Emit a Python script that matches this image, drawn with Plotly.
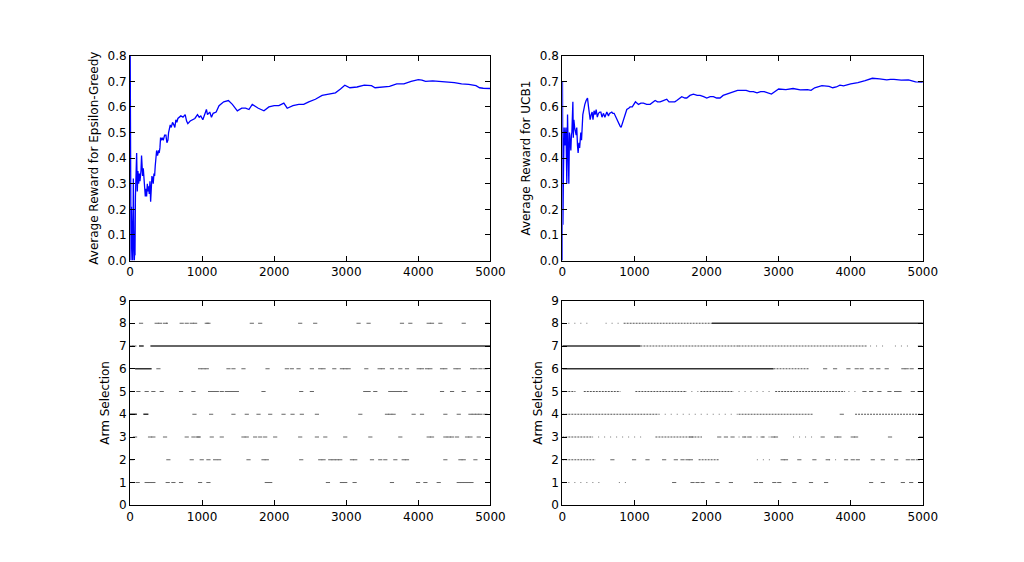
import plotly.graph_objects as go

# ---------------- data ----------------
x_ticks = [0, 1000, 2000, 3000, 4000, 5000]
reward_ticks = [0.0, 0.1, 0.2, 0.3, 0.4, 0.5, 0.6, 0.7, 0.8]
arm_ticks = [0, 1, 2, 3, 4, 5, 6, 7, 8, 9]

eg_x = [0, 3, 8, 14, 20, 26, 32, 37, 42, 46, 52, 60, 64, 69, 75, 80, 86, 92, 101, 110,
        120, 130, 138, 145, 152, 160, 166, 175, 184, 194, 203, 212, 221, 230, 240, 249,
        258, 267, 277, 286, 295, 304, 313, 322, 332, 341, 350, 360, 369, 382, 396, 405,
        415, 424, 433, 447, 461, 480, 498, 512, 526, 535, 544, 558, 572, 590, 608, 622,
        636, 650, 664, 685, 705, 735, 765, 785, 802, 835, 867, 900, 936, 960, 982, 1010,
        1042, 1060, 1075, 1106, 1130, 1153, 1195, 1235, 1300, 1365, 1420, 1489, 1550,
        1604, 1650, 1696, 1780, 1858, 1927, 2000, 2065, 2134, 2181, 2260, 2342, 2410,
        2480, 2572, 2665, 2750, 2850, 2920, 2980, 3050, 3150, 3250, 3350, 3400, 3500,
        3600, 3700, 3800, 3900, 4000, 4050, 4100, 4200, 4300, 4400, 4500, 4600, 4700,
        4800, 4850, 4900, 5000]
eg_y = [1.0, 0.33, 0.12, 0.0, 0.21, 0.05, 0.14, 0.0, 0.10, 0.32, 0.12, 0.0, 0.04, 0.02,
        0.25, 0.30, 0.27, 0.42, 0.27, 0.35, 0.30, 0.34, 0.31, 0.33, 0.35, 0.41, 0.39,
        0.33, 0.36, 0.32, 0.30, 0.25, 0.28, 0.25, 0.30, 0.27, 0.29, 0.26, 0.31, 0.23,
        0.28, 0.33, 0.32, 0.30, 0.34, 0.33, 0.37, 0.42, 0.43, 0.41, 0.43, 0.42, 0.44,
        0.48, 0.47, 0.48, 0.47, 0.49, 0.49, 0.46, 0.47, 0.50, 0.52, 0.53, 0.52, 0.54,
        0.53, 0.52, 0.55, 0.54, 0.555, 0.56, 0.565, 0.56, 0.57, 0.545, 0.535, 0.545,
        0.55, 0.555, 0.57, 0.56, 0.565, 0.55, 0.575, 0.59, 0.57, 0.58, 0.56, 0.575,
        0.58, 0.605, 0.62, 0.625, 0.61, 0.585, 0.595, 0.595, 0.59, 0.61, 0.595, 0.585,
        0.60, 0.605, 0.605, 0.615, 0.595, 0.605, 0.61, 0.61, 0.62, 0.63, 0.645, 0.65,
        0.655, 0.67, 0.685, 0.675, 0.678, 0.685, 0.683, 0.675, 0.678, 0.68, 0.69, 0.69,
        0.70, 0.707, 0.705, 0.70, 0.702, 0.70, 0.697, 0.695, 0.69, 0.688, 0.683, 0.675,
        0.673, 0.672]

ucb_x = [0, 2, 8, 16, 25, 35, 50, 62, 72, 80, 90, 99, 110, 118, 126, 132, 146, 152, 160,
         170, 192, 200, 210, 219, 230, 240, 256, 266, 284, 300, 312, 330, 349, 363, 386,
         400, 413, 425, 440, 455, 469, 485, 501, 520, 534, 550, 571, 590, 617, 640, 654,
         686, 700, 718, 740, 755, 780, 801, 815, 838, 865, 894, 920, 940, 970, 1014, 1056,
         1090, 1125, 1170, 1218, 1260, 1287, 1320, 1356, 1400, 1448, 1480, 1518, 1560,
         1587, 1656, 1700, 1726, 1770, 1818, 1870, 1910, 1960, 2003, 2050, 2095, 2140,
         2187, 2230, 2280, 2330, 2372, 2430, 2488, 2550, 2600, 2650, 2700, 2750, 2800,
         2850, 2900, 2950, 3000, 3100, 3200, 3300, 3400, 3450, 3500, 3600, 3700, 3750,
         3800, 3850, 3900, 4000, 4100, 4200, 4300, 4400, 4500, 4550, 4600, 4700, 4800,
         4900, 5000]
ucb_y = [0.0, 0.70, 0.14, 0.35, 0.52, 0.45, 0.52, 0.30, 0.57, 0.45, 0.30, 0.50, 0.46,
         0.43, 0.49, 0.50, 0.62, 0.48, 0.55, 0.52, 0.49, 0.52, 0.45, 0.42, 0.46, 0.44,
         0.50, 0.47, 0.57, 0.60, 0.61, 0.625, 0.635, 0.60, 0.55, 0.57, 0.58, 0.55, 0.585,
         0.57, 0.59, 0.56, 0.575, 0.58, 0.58, 0.56, 0.575, 0.56, 0.58, 0.565, 0.575, 0.58,
         0.575, 0.575, 0.56, 0.55, 0.535, 0.525, 0.52, 0.54, 0.56, 0.59, 0.595, 0.60,
         0.60, 0.62, 0.61, 0.615, 0.615, 0.61, 0.61, 0.62, 0.625, 0.62, 0.62, 0.625, 0.63,
         0.62, 0.62, 0.62, 0.625, 0.64, 0.635, 0.635, 0.645, 0.65, 0.645, 0.645, 0.64,
         0.635, 0.64, 0.64, 0.635, 0.635, 0.645, 0.65, 0.655, 0.66, 0.665, 0.665, 0.665,
         0.66, 0.66, 0.655, 0.66, 0.66, 0.655, 0.65, 0.66, 0.67, 0.668, 0.672, 0.667,
         0.668, 0.665, 0.675, 0.683, 0.68, 0.675, 0.678, 0.685, 0.682, 0.69, 0.695, 0.703,
         0.712, 0.71, 0.706, 0.708, 0.708, 0.705, 0.706, 0.698, 0.697]

# Epsilon-Greedy arm selections: continuous runs (arm, start, end, density 0=solid,1=dense,2=sparse)
eg_run_arm = [7, 7, 6, 4, 4, 8]
eg_run_start = [125, 283, 70, 0, 185, 498]
eg_run_end = [190, 5000, 300, 95, 255, 530]
eg_run_kind = [0, 0, 0, 0, 0, 1]

# Epsilon-Greedy isolated selections per arm
eg_arm8_x = [153, 370, 417, 486, 717, 787, 856, 903, 1065, 1088, 1690, 1806, 2361, 2569,
             3171, 3310, 3773, 3889, 4144, 4190, 4306, 4630, 4954]
eg_arm7_x = [20, 60]
eg_arm6_x = [394, 972, 1019, 1065, 1366, 1435, 1574, 1908, 2176, 2245, 2338, 2523, 2639,
             2685, 2834, 2940, 2986, 3033, 3278, 3463, 3509, 3634, 3750, 3843, 4005, 4051,
             4121, 4167, 4329, 4375, 4514, 4561, 4746, 4792, 4861, 4931]
eg_arm5_x = [23, 116, 231, 324, 440, 708, 880, 1111, 1157, 1204, 1273, 1343, 1389, 1435,
             1482, 1852, 2375, 2523, 3264, 3310, 3403, 3611, 3657, 3704, 3750, 3820, 4329,
             4468, 4630, 4838, 4954]
eg_arm4_x = [894, 1125, 1435, 1620, 1783, 1945, 2130, 2255, 2384, 2593, 3195, 3565, 3611,
             3657, 3935, 4051, 4375, 4561, 4723, 4769, 4815, 4861, 4931]
eg_arm3_x = [70, 278, 324, 486, 787, 880, 940, 955, 1134, 1273, 1574, 1620, 1736, 1806,
             1875, 2014, 2361, 2593, 2709, 2986, 3334, 3750, 4144, 4190, 4375, 4422, 4468,
             4537, 4676, 4723, 4838]
eg_arm2_x = [23, 532, 856, 995, 1088, 1181, 1236, 1644, 1852, 1898, 2375, 2639, 2685, 2778,
             2824, 2871, 2917, 3079, 3125, 3357, 3472, 3542, 3681, 3797, 3843, 4375, 4584,
             4630, 4792]
eg_arm1_x = [106, 231, 278, 324, 523, 602, 708, 972, 1088, 1898, 1945, 2746, 2940, 2986,
             3116, 3634, 3996, 4098, 4283, 4561, 4607, 4653, 4700, 4737]

# UCB1 arm selections: continuous runs
ucb_run_arm = [8, 8, 8, 8,
               7, 7, 7, 7, 7,
               6, 6,
               5, 5, 5, 5, 5, 5, 5, 5,
               4, 4, 4, 4,
               3, 3, 3, 3, 3,
               2, 2, 2, 2,
               1, 1]
ucb_run_start = [0, 600, 850, 2075,
                 0, 1083, 2444, 4268, 4613,
                 0, 2929,
                 0, 297, 1013, 1706, 1915, 2444, 2952, 3968,
                 0, 1337, 2444, 4060,
                 0, 413, 1291, 2444, 3200,
                 0, 1890, 2698, 3700,
                 0, 784]
ucb_run_end = [390, 830, 2075, 5000,
               1083, 2444, 4222, 4453, 4845,
               2929, 3414,
               182, 805, 1706, 1890, 2376, 2906, 3922, 4100,
               1337, 2444, 3483, 5000,
               413, 1106, 1937, 2952, 3500,
               460, 2167, 2906, 3800,
               575, 900]
ucb_run_kind = [2, 2, 1, 0,
                0, 1, 1, 2, 2,
                0, 1,
                1, 1, 1, 2, 1, 2, 1, 2,
                1, 2, 1, 1,
                1, 2, 1, 2, 2,
                1, 1, 2, 2,
                2, 2]

# UCB1 isolated selections per arm
ucb_arm8_x = []
ucb_arm7_x = [4960]
ucb_arm6_x = [3645, 3783, 3968, 4083, 4152, 4291, 4383, 4499, 4730, 4776, 4845, 4960]
ucb_arm5_x = [4190, 4283, 4398, 4537, 4630, 4676, 4861, 4954]
ucb_arm4_x = [3876]
ucb_arm3_x = [1790, 2176, 2269, 2361, 2523, 2593, 2778, 2917, 2963, 3611, 3797, 3843,
              4028, 4074, 4545, 4977]
ucb_arm2_x = [694, 995, 1181, 1412, 1574, 1667, 1736, 1783, 3056, 3102, 3287, 3496, 3681,
              3935, 4028, 4098, 4306, 4445, 4630, 4792, 4861, 4931]
ucb_arm1_x = [1551, 1806, 1875, 1945, 2153, 2338, 2685, 2755, 2940, 3009, 3218, 3449, 3658,
              4283, 4445, 4723, 4838, 4977]

# ---------------- figure ----------------
fig = go.Figure()

BLUE = "#0000ff"
MARK = "#666666"

fig.add_trace(go.Scatter(x=eg_x, y=eg_y, mode="lines", line=dict(color=BLUE, width=1.3),
                         xaxis="x", yaxis="y", showlegend=False, hoverinfo="skip"))
fig.add_trace(go.Scatter(x=ucb_x, y=ucb_y, mode="lines", line=dict(color=BLUE, width=1.3),
                         xaxis="x2", yaxis="y2", showlegend=False, hoverinfo="skip"))

kind_styles = {
    0: dict(color="#333333", width=1.5, dash="solid"),
    1: dict(color="#555555", width=1.2, dash="2px,1px"),
    2: dict(color="#777777", width=1.0, dash="1px,5px"),
}


def add_runs(arms, starts, ends, kinds, xa, ya):
    for k, style in kind_styles.items():
        xs, ys = [], []
        for a, s, e, kk in zip(arms, starts, ends, kinds):
            if kk == k:
                xs += [s, e, None]
                ys += [a, a, None]
        if xs:
            fig.add_trace(go.Scatter(x=xs, y=ys, mode="lines", line=style,
                                     xaxis=xa, yaxis=ya, showlegend=False,
                                     hoverinfo="skip", connectgaps=False))


def add_points(per_arm, xa, ya):
    xs, ys = [], []
    for arm, lst in per_arm.items():
        xs += lst
        ys += [arm] * len(lst)
    fig.add_trace(go.Scatter(x=xs, y=ys, mode="markers",
                             marker=dict(symbol="line-ew", size=3, color=MARK,
                                         line=dict(width=1, color=MARK)),
                             xaxis=xa, yaxis=ya, showlegend=False, hoverinfo="skip"))


add_runs(eg_run_arm, eg_run_start, eg_run_end, eg_run_kind, "x3", "y3")
add_points({8: eg_arm8_x, 7: eg_arm7_x, 6: eg_arm6_x, 5: eg_arm5_x, 4: eg_arm4_x,
            3: eg_arm3_x, 2: eg_arm2_x, 1: eg_arm1_x}, "x3", "y3")
add_runs(ucb_run_arm, ucb_run_start, ucb_run_end, ucb_run_kind, "x4", "y4")
add_points({8: ucb_arm8_x, 7: ucb_arm7_x, 6: ucb_arm6_x, 5: ucb_arm5_x, 4: ucb_arm4_x,
            3: ucb_arm3_x, 2: ucb_arm2_x, 1: ucb_arm1_x}, "x4", "y4")

W, H = 1024, 562
# pixel edges of the four panels
xl = [128.4 / W, 495.6 / W]
xr = [568.9 / W, 936.2 / W]
yt = [(H - 260) / H, (H - 50) / H]
yb = [(H - 511) / H, (H - 301) / H]

axis_common = dict(showline=True, linecolor="black", linewidth=1, mirror="allticks",
                   ticks="inside", ticklen=5, tickcolor="black", tickwidth=1,
                   showgrid=False, zeroline=False, tickfont=dict(size=12, color="black"))

fig.update_layout(
    width=W, height=H, margin=dict(l=0, r=0, t=0, b=0),
    paper_bgcolor="white", plot_bgcolor="white",
    font=dict(family="DejaVu Sans", size=12, color="black"),
    xaxis=dict(domain=xl, anchor="y", range=[0, 5000], tickvals=x_ticks, **axis_common),
    yaxis=dict(domain=yt, anchor="x", range=[0, 0.8], tickvals=reward_ticks,
               tickformat=".1f", title=dict(text="Average Reward for Epsilon-Greedy",
                                            font=dict(size=12), standoff=6),
               **axis_common),
    xaxis2=dict(domain=xr, anchor="y2", range=[0, 5000], tickvals=x_ticks, **axis_common),
    yaxis2=dict(domain=yt, anchor="x2", range=[0, 0.8], tickvals=reward_ticks,
                tickformat=".1f", title=dict(text="Average Reward for UCB1",
                                             font=dict(size=12), standoff=6),
                **axis_common),
    xaxis3=dict(domain=xl, anchor="y3", range=[0, 5000], tickvals=x_ticks, **axis_common),
    yaxis3=dict(domain=yb, anchor="x3", range=[0, 9], tickvals=arm_ticks,
                title=dict(text="Arm Selection", font=dict(size=12), standoff=6),
                **axis_common),
    xaxis4=dict(domain=xr, anchor="y4", range=[0, 5000], tickvals=x_ticks, **axis_common),
    yaxis4=dict(domain=yb, anchor="x4", range=[0, 9], tickvals=arm_ticks,
                title=dict(text="Arm Selection", font=dict(size=12), standoff=6),
                **axis_common),
)

fig.write_html("out.html", config={"displayModeBar": False},
               post_script="document.body.style.margin='0';document.body.style.overflow='hidden';")
